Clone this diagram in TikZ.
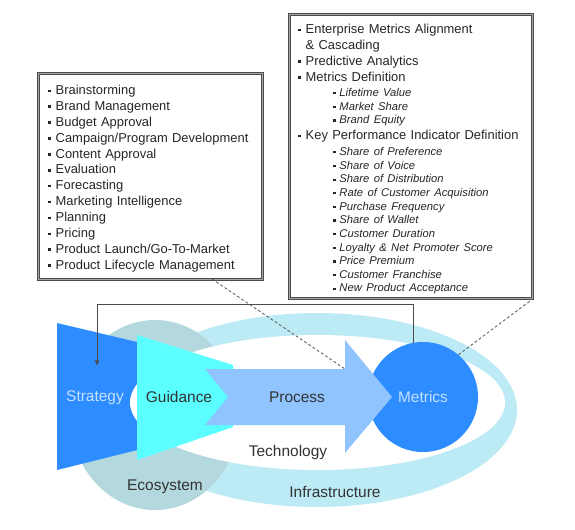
\documentclass[tikz,border=0pt]{standalone}
\usepackage{fontspec}
\setmainfont{Liberation Sans}
\usepackage{xcolor}
\usetikzlibrary{arrows.meta,positioning}
\definecolor{infracyan}{HTML}{BDEBF5}
\definecolor{ecogray}{HTML}{B3D8DD}
\definecolor{stratblue}{HTML}{2D8CFF}
\definecolor{guidcyan}{HTML}{5BFFFF}
\definecolor{procblue}{HTML}{8FC4FF}
\definecolor{lightlbl}{HTML}{C4E0FF}
\definecolor{darklbl}{HTML}{333333}
\newcommand{\itm}[1]{\makebox[5.2pt][l]{\rule[1.7pt]{1.8pt}{1.8pt}}#1\par}
\newcommand{\subitm}[1]{{\fontsize{8}{9.7}\selectfont\itshape
  \hspace*{24.8pt}\makebox[4.4pt][l]{\rule[1.5pt]{1.6pt}{1.6pt}}#1\par}}

\begin{document}
\begin{tikzpicture}[
    x=0.025cm,y=-0.025cm,
    listbox/.style = {rectangle,draw=black!70,double=black!35,double distance=0.6pt,
                      line width=0.55pt,fill=white,
                      align=left,font=\fontsize{9.2}{11.3}\selectfont,
                      text=black!85,inner ysep=0pt,
                      execute at begin node=\setlength{\parindent}{0pt}},
    lbl/.style     = {font=\fontsize{11}{13}\selectfont,text=darklbl,inner sep=1pt},
    lbll/.style    = {lbl,text=lightlbl},
    fb/.style      = {-{Latex[length=4pt,width=3.5pt]},black!70,line width=0.6pt},
    dsh/.style     = {black!65,line width=0.6pt,dash pattern=on 2pt off 1.6pt},
  ]
  \useasboundingbox (0,0) rectangle (575,529);

  % infrastructure ring and ecosystem
  \fill[infracyan] (317,410) ellipse [x radius=200,y radius=97];
  \fill[ecogray]   (155,415) ellipse [x radius=85,y radius=95];
  \fill[stratblue] (57,323) -- (137,342) -- (137,450) -- (57,470) -- cycle;
  \fill[white]     (317.5,402.5) ellipse [x radius=187.5,y radius=67.5];

  \fill[guidcyan] (137,335) -- (233,365) -- (233,427) -- (137,460) -- cycle;
  \node[circle,fill=stratblue,minimum size=2.75cm,lbll] (metrics) at (423,397) {Metrics};
  \fill[procblue] (205,369) -- (345,369) -- (345,340) -- (392,397) -- (345,453)
                  -- (345,425) -- (205,425) -- (228,397) -- cycle;

  \node[lbll] (strat) at (95,398)  {Strategy};
  \node[lbl]  (guid)  at (179,397) {Guidance};
  \node[lbl]  (proc)  at (297,397) {Process};
  \node[lbl]  (tech)  at (288,452) {Technology};
  \node[lbl]  (eco)   at (165,487) {Ecosystem};
  \node[lbl]  (infra) at (335,492) {Infrastructure};

  % the two lists
  \node[listbox,anchor=north west,text width=5.1cm,inner xsep=0.25cm,
        minimum height=5.15cm] (tasks) at (38,73) {%
    \itm{Brainstorming}
    \itm{Brand Management}
    \itm{Budget Approval}
    \itm{Campaign/Program Development}
    \itm{Content Approval}
    \itm{Evaluation}
    \itm{Forecasting}
    \itm{Marketing Intelligence}
    \itm{Planning}
    \itm{Pricing}
    \itm{Product Launch/Go-To-Market}
    \itm{Product Lifecycle Management}
    \vspace*{-3pt}};

  \node[listbox,anchor=north west,text width=5.625cm,inner xsep=0.225cm,
        minimum height=7.1cm] (kpi) at (289,14) {%
    \itm{Enterprise Metrics Alignment}
    \hspace*{5.2pt}\& Cascading\par
    \itm{Predictive Analytics}
    \itm{Metrics Definition}
    \vspace{1.2pt}
    \subitm{Lifetime Value}
    \subitm{Market Share}
    \subitm{Brand Equity}
    \itm{Key Performance Indicator Definition}
    \vspace{1.6pt}
    \subitm{Share of Preference}
    \subitm{Share of Voice}
    \subitm{Share of Distribution}
    \subitm{Rate of Customer Acquisition}
    \subitm{Purchase Frequency}
    \subitm{Share of Wallet}
    \subitm{Customer Duration}
    \subitm{Loyalty \& Net Promoter Score}
    \subitm{Price Premium}
    \subitm{Customer Franchise}
    \subitm{New Product Acceptance}
    \vspace*{-4pt}};

  % connectors
  \coordinate (stratin)   at (97,366);
  \coordinate (tasksfoot) at (212,279);
  \coordinate (headtop)   at (345,369);

  \draw[fb]  (metrics.100) -- ++(0,-38) -| (stratin);
  \draw[dsh] (tasksfoot) -- (headtop);
  \draw[dsh] (metrics.50) -- (kpi.south east);

\end{tikzpicture}
\end{document}
